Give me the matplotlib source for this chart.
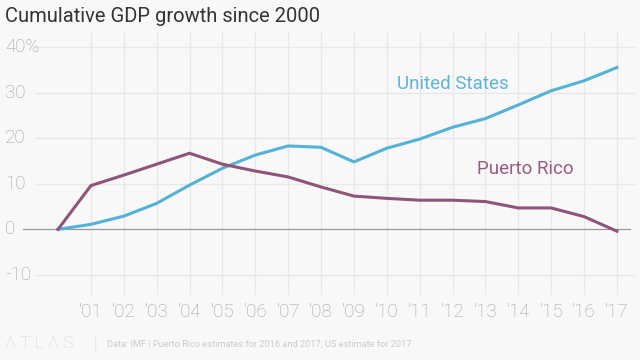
import matplotlib
matplotlib.use("Agg")
import matplotlib.pyplot as plt

years = list(range(2000, 2018))
us = [0, 1.1, 2.9, 5.7, 9.7, 13.4, 16.3, 18.3, 18.0, 14.8, 17.8, 19.8, 22.4, 24.3, 27.3, 30.4, 32.6, 35.5]
pr = [0, 9.6, 11.9, 14.3, 16.7, 14.3, 12.8, 11.5, 9.3, 7.3, 6.8, 6.4, 6.4, 6.1, 4.7, 4.7, 2.8, -0.4]
xtick_years = list(range(2001, 2018))
xtick_labels = ["'%02d" % (y % 100) for y in xtick_years]
ytick_vals = [-10, 0, 10, 20, 30, 40]
ytick_labels = ["-10", "0", "10", "20", "30", "40%"]

bg = "#f8f8f8"
us_color = "#54b2d6"
pr_color = "#8f5479"
tick_color = "#a2a2a2"
grid_color = "#e8e8e8"

plt.rcParams['font.family'] = ['Roboto', 'DejaVu Sans']

fig = plt.figure(figsize=(6.4, 3.6), dpi=100, facecolor=bg)
ax = fig.add_axes([35/640, 1 - 295/360, 600/640, (295 - 32)/360])
ax.set_facecolor(bg)

ax.set_xlim(1999.3, 2017.55)
ax.set_ylim(-14.4, 43.3)

for y in ytick_vals:
    if y != 0:
        ax.axhline(y, color=grid_color, lw=0.9, zorder=0)
for x in xtick_years:
    ax.axvline(x, color=grid_color, lw=0.9, zorder=0)
ax.plot([1998.95, 2017.4], [0, 0], color="#999999", lw=0.9, zorder=1, clip_on=False)

ax.plot(years, us, color=us_color, lw=2.2, zorder=3, solid_joinstyle='miter')
ax.plot(years, pr, color=pr_color, lw=2.2, zorder=3, solid_joinstyle='miter')

for s in ax.spines.values():
    s.set_visible(False)
ax.set_xticks([])
ax.set_yticks([])

for v, lab in zip(ytick_vals, ytick_labels):
    ypix = ax.transData.transform((2000, v))[1]
    fig.text(5/640, ypix/360, lab, ha='left', va='center', fontsize=13.5,
             color=tick_color, fontweight='light')

for x, lab in zip(xtick_years, xtick_labels):
    xpix = ax.transData.transform((x, 0))[0]
    fig.text(xpix/640, 1 - 312/360, lab, ha='center', va='center', fontsize=13.5,
             color=tick_color, fontweight='light')

fig.text(5/640, 1 - 17/360, "Cumulative GDP growth since 2000", ha='left', va='center',
         fontsize=14.5, color="#333333", family=['Liberation Sans Narrow', 'Roboto', 'DejaVu Sans'])

ax.text(2012.0, 32.0, "United States", color="#5fb3d3", fontsize=13.5, ha='center',
        va='center')
ax.text(2014.2, 13.3, "Puerto Rico", color="#9a5a86", fontsize=13.5, ha='center',
        va='center')

fig.text(5/640, 1 - 344/360, "Λ T L Λ S", ha='left', va='center', fontsize=12.5,
         color="#d4d4d4", fontweight='light')
fig.text(93/640, 1 - 344/360, "|", ha='left', va='center', fontsize=13, color="#d4d4d4",
         fontweight='light')
fig.text(107/640, 1 - 344/360,
         "Data: IMF | Puerto Rico estimates for 2016 and 2017, US estimate for 2017",
         ha='left', va='center', fontsize=6.7, color="#cccccc")

fig.savefig("out.png", dpi=100, facecolor=bg)
